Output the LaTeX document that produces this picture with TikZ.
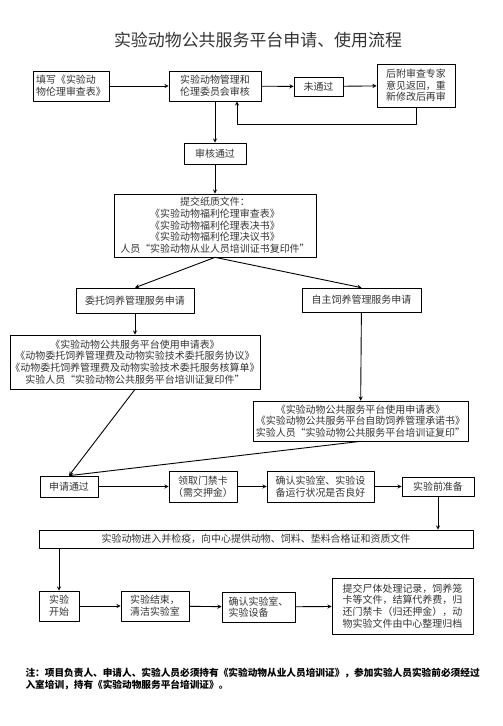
\documentclass[tikz,border=0pt]{standalone}
\usepackage{fontspec}
\newfontfamily\cjk{Noto Sans CJK SC}
\definecolor{txt}{HTML}{333333}
\begin{document}
\begin{tikzpicture}[x=1bp, y=-1bp, font=\cjk\fontsize{10}{11.7}\selectfont, line join=round, >=stealth,
  box/.style={draw, line width=0.7pt, inner sep=0pt, align=center, text=txt},
  wh/.style 2 args={minimum width=#1bp, minimum height=#2bp},
  flow/.style={->, line width=0.9pt}]
\useasboundingbox (0,0) rectangle (503,726);
\node[text=txt, font=\cjk\fontsize{17}{20}\selectfont] (title) at (258,40) {实验动物公共服务平台申请、使用流程};
% first row
\node[box, wh={76}{30}, align=left] (fill) at (71,86) {填写《实验动\\物伦理审查表》};
\node[box, wh={92}{30}, align=left] (review) at (215,86) {实验动物管理和\\伦理委员会审核};
\node[box, wh={49}{19}] (nopass) at (318.5,86.5) {未通过};
\node[box, wh={78}{43}, align=left] (redo) at (416,85.5) {后附审查专家\\意见返回，重\\新修改后再审};
\node[box, wh={62}{21}] (pass) at (215,153.5) {审核通过};
\node[box, wh={202}{63}] (docs) at (215,225.5) {提交纸质文件：\\《实验动物福利伦理审查表》\\《实验动物福利伦理表决书》\\《实验动物福利伦理决议书》\\人员“实验动物从业人员培训证书复印件”};
% two branches
\node[box, wh={118}{25}] (entrust) at (135,300.5) {委托饲养管理服务申请};
\node[box, wh={119}{24}] (self) at (361.5,300) {自主饲养管理服务申请};
\node[box, wh={250}{54}] (edocs) at (135,362) {《实验动物公共服务平台使用申请表》\\《动物委托饲养管理费及动物实验技术委托服务协议》\\《动物委托饲养管理费及动物实验技术委托服务核算单》\\实验人员“实验动物公共服务平台培训证复印件”};
\node[box, wh={215}{40}] (sdocs) at (360.5,421) {《实验动物公共服务平台使用申请表》\\《实验动物公共服务平台自助饲养管理承诺书》\\实验人员“实验动物公共服务平台培训证复印”};
% approval row
\node[box, wh={58}{21}] (approved) at (69,486.5) {申请通过};
\node[box, wh={68}{31}] (card) at (203,486.5) {领取门禁卡\\（需交押金）};
\node[box, wh={107}{31}, align=left] (check) at (320.5,486.5) {确认实验室、实验设\\备运行状况是否良好};
\node[box, wh={72}{19}] (prep) at (438,486.5) {实验前准备};
\node[box, wh={434}{18}] (enter) at (256,539) {实验动物进入并检疫，向中心提供动物、饲料、垫料合格证和资质文件};
% experiment row
\node[box, wh={40}{30}] (start) at (59,606) {实验\\开始};
\node[box, wh={68}{30}, align=left] (finish) at (155,606) {实验结束，\\清洁实验室};
\node[box, wh={73}{30}, align=left] (confirm) at (258.5,607) {确认实验室、\\实验设备};
\node[box, wh={141}{56}, align=left] (submit) at (402.5,606) {提交尸体处理记录，饲养笼\\卡等文件，结算代养费，归\\还门禁卡（归还押金），动\\物实验文件由中心整理归档};
\node[anchor=west, align=left, font=\cjk\bfseries\fontsize{9.7}{12}\selectfont] (note) at (22,679)
  {注：项目负责人、申请人、实验人员必须持有《实验动物从业人员培训证》，参加实验人员实验前必须经过\\入室培训，持有《实验动物服务平台培训证》。};
% connectors
\coordinate (back) at (237,124);
\draw[flow] (fill) -- (review);
\draw[flow] (review) -- (nopass);
\draw[flow] (nopass) -- (redo);
\draw[flow] (redo.south) |- (back) -- (back |- review.south);
\draw[flow] (review) -- (pass);
\draw[flow] (pass) -- (docs);
\draw[flow] (docs.south) -- (entrust.north);
\draw[flow] (docs.south) -- (self.north);
\draw[flow] (entrust) -- (edocs);
\draw[flow] (self) -- (sdocs);
\draw[flow] (edocs.south) -- (approved.north);
\draw[flow] (sdocs.south) -- (approved.north);
\draw[flow] (approved) -- (card);
\draw[flow] (card) -- (check);
\draw[flow] (check) -- (prep);
\draw[flow] (prep.south) -- (prep.south |- enter.north);
\draw[flow] (start.north |- enter.south) -- (start.north);
\draw[flow] (start) -- (finish);
\draw[flow] (finish) -- (confirm);
\draw[flow] (confirm) -- (submit);
\end{tikzpicture}
\end{document}
